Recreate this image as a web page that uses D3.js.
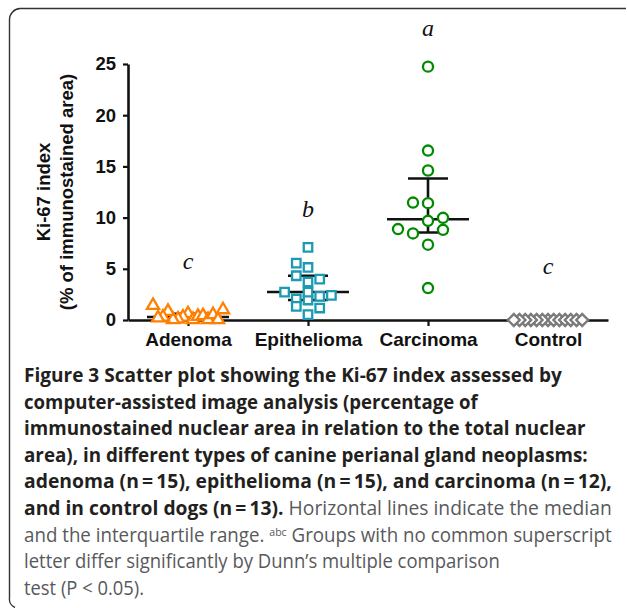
<!DOCTYPE html>
<html>
<head>
<meta charset="utf-8">
<script src="https://cdn.jsdelivr.net/npm/d3@7"></script>
<style>
  body { margin: 0; background: #fff; }
  svg { display: block; }
</style>
</head>
<body>
<div id="chart"></div>
<script>
// Data

let groups = [`Adenoma`, `Epithelioma`, `Carcinoma`, `Control`]

let adenoma = [0.61, 0.29, 0.03, 0.1, 0.35, 0.03, 0.42, 0.84, 0.03, 0.29, 0.52, 0.2, 0.03, 1.42, 1.0]
let epithelioma = [7.09, 5.13, 5.56, 3.71, 4.0, 4.32, 1.95, 0.52, 2.3, 2.05, 1.17, 1.33, 2.4, 2.73, 2.73]
let carcinoma = [24.74, 16.55, 14.6, 11.41, 11.47, 9.69, 9.98, 7.35, 8.45, 8.81, 8.88, 3.12]
let control = [0, 0, 0, 0, 0, 0, 0, 0, 0, 0, 0, 0, 0]

let yTicks = [0, 5, 10, 15, 20, 25]

// Superscript letters (Dunn's test) and the level they sit at, in % units
let letters = [`c`, `b`, `a`, `c`]
let letterLevels = [5.0, 10.1, 27.7, 4.5]

let caption = [
  [[`Figure 3 Scatter plot showing the Ki-67 index assessed by`, `b`]],
  [[`computer-assisted image analysis (percentage of`, `b`]],
  [[`immunostained nuclear area in relation to the total nuclear`, `b`]],
  [[`area), in different types of canine perianal gland neoplasms:`, `b`]],
  [[`adenoma (n\u2009=\u200915), epithelioma (n\u2009=\u200915), and carcinoma (n\u2009=\u200912),`, `b`]],
  [[`and in control dogs (n\u2009=\u200913).`, `b`], [` Horizontal lines indicate the median`, `r`]],
  [[`and the interquartile range. `, `r`], [`abc`, `sup`], [` Groups with no common superscript`, `r`]],
  [[`letter differ significantly by Dunn\u2019s multiple comparison`, `r`]],
  [[`test (P < 0.05).`, `r`]],
]

// Layout

let width = 627
let height = 608
let black = `#111`
let sans = `"Liberation Sans", Arial, sans-serif`

let markers = {
  Adenoma: { values: adenoma, symbol: d3.symbolTriangle, size: 64, color: `#ff7f00`, step: 5, gap: 15 },
  Epithelioma: { values: epithelioma, symbol: d3.symbolSquare, size: 72, color: `#1a9bb3`, step: 11.7, gap: 7 },
  Carcinoma: { values: carcinoma, symbol: d3.symbolCircle, size: 80, color: `#008a00`, step: 15, gap: 11.5 },
  Control: { values: control, symbol: d3.symbolSquare, size: 72, color: `#7a7a7a`, step: 5.7, gap: 10, rotate: 45 },
}

let captionWidths = [538, 454, 562, 564, 588, 588, 588, 476, 120]

let svg = d3.select(`#chart`)
  .append(`svg`)
  .attr(`width`, width)
  .attr(`height`, height)

svg.append(`rect`)
  .attr(`width`, width)
  .attr(`height`, height)
  .attr(`fill`, `#fff`)

// Frame of the figure box (only top and left edges show)
svg.append(`path`)
  .attr(`d`, `M 626 8.5 H 20 A 11 11 0 0 0 9.5 19.5 V 598 A 9 9 0 0 0 15 607.5`)
  .attr(`fill`, `none`)
  .attr(`stroke`, `#333`)
  .attr(`stroke-width`, 1.4)

let x = d3.scalePoint()
  .domain(groups)
  .range([128, 608])
  .padding(0.5)

let y = d3.scaleLinear()
  .domain([0, 25])
  .range([320, 64])

// Axes

let yAxis = svg.append(`g`)
  .attr(`transform`, `translate(128,0)`)
  .call(d3.axisLeft(y).tickValues(yTicks).tickSize(5).tickPadding(7).tickSizeOuter(0))

let xAxis = svg.append(`g`)
  .attr(`transform`, `translate(0,320)`)
  .call(d3.axisBottom(x).tickSize(6).tickPadding(7).tickSizeOuter(0))

;[yAxis, xAxis].forEach(g => {
  g.select(`.domain`).attr(`stroke`, black).attr(`stroke-width`, 2.6)
  g.selectAll(`.tick line`).attr(`stroke`, black).attr(`stroke-width`, 2.2)
  g.selectAll(`.tick text`)
    .attr(`fill`, black)
    .style(`font-family`, sans)
    .style(`font-weight`, `bold`)
})
yAxis.selectAll(`.tick text`).style(`font-size`, `18.5px`)
xAxis.selectAll(`.tick text`).style(`font-size`, `19px`)

let yTitle = svg.append(`text`)
  .attr(`transform`, `translate(0,${(y(0) + y(25)) / 2}) rotate(-90)`)
  .attr(`text-anchor`, `middle`)
  .style(`font-family`, sans)
  .style(`font-weight`, `bold`)
  .style(`font-size`, `18.5px`)
  .attr(`fill`, black)

yTitle.append(`tspan`).attr(`x`, 0).attr(`y`, 50).text(`Ki-67 index`)
yTitle.append(`tspan`).attr(`x`, 0).attr(`y`, 73).text(`(% of immunostained area)`)

// Beeswarm layout: points that overlap in the same column are pushed sideways,
// alternating left and right

let dodge = (values, step, gap) => {
  let placed = []
  let side = -1
  return values.map(v => {
    let py = y(v)
    let free = col => placed.every(p => p.col !== col || Math.abs(p.y - py) >= gap)
    let col = 0
    if (!free(0)) {
      for (let k = 1; ; k++) {
        if (free(side * k)) { col = side * k; break }
        if (free(-side * k)) { col = -side * k; break }
      }
      side = -side
    }
    placed.push({ col, y: py })
    return col * step
  })
}

// Quartiles the way Prism computes them
let quantile = (sorted, p) => {
  let n = sorted.length
  let h = (n + 1) * p
  if (h <= 1) return sorted[0]
  if (h >= n) return sorted[n - 1]
  let lo = Math.floor(h)
  return sorted[lo - 1] + (h - lo) * (sorted[lo] - sorted[lo - 1])
}

// Median and interquartile range

let stats = svg.append(`g`)
  .attr(`stroke`, black)
  .attr(`stroke-width`, 2.6)

groups.forEach(g => {
  let sorted = markers[g].values.slice().sort(d3.ascending)
  let cx = x(g)
  let q1 = quantile(sorted, 0.25)
  let med = quantile(sorted, 0.5)
  let q3 = quantile(sorted, 0.75)

  stats.append(`line`).attr(`x1`, cx - 41).attr(`x2`, cx + 41).attr(`y1`, y(med)).attr(`y2`, y(med))
  stats.append(`line`).attr(`x1`, cx - 20).attr(`x2`, cx + 20).attr(`y1`, y(q1)).attr(`y2`, y(q1))
  stats.append(`line`).attr(`x1`, cx - 20).attr(`x2`, cx + 20).attr(`y1`, y(q3)).attr(`y2`, y(q3))
  stats.append(`line`).attr(`x1`, cx).attr(`x2`, cx).attr(`y1`, y(q1)).attr(`y2`, y(q3))
})

// Points

groups.forEach(g => {
  let m = markers[g]
  let offsets = dodge(m.values, m.step, m.gap)
  let sym = d3.symbol().type(m.symbol).size(m.size)

  svg.append(`g`)
    .selectAll(`path`)
    .data(m.values)
    .join(`path`)
    .attr(`d`, sym)
    .attr(`transform`, (d, i) => `translate(${x(g) + offsets[i]},${y(d)}) rotate(${m.rotate || 0})`)
    .attr(`fill`, `#fff`)
    .attr(`stroke`, m.color)
    .attr(`stroke-width`, 2.3)
})

// Letters

svg.append(`g`)
  .selectAll(`text`)
  .data(groups)
  .join(`text`)
  .attr(`x`, d => x(d))
  .attr(`y`, (d, i) => y(letterLevels[i]))
  .attr(`text-anchor`, `middle`)
  .style(`font-family`, `"Liberation Serif", "Times New Roman", serif`)
  .style(`font-style`, `italic`)
  .style(`font-size`, `24px`)
  .attr(`fill`, black)
  .text((d, i) => letters[i])

// Caption: each line is squeezed to the width it has in the journal layout

let cap = svg.append(`g`)
  .style(`font-family`, `"Open Sans", "Noto Sans", sans-serif`)
  .style(`font-size`, `19.5px`)

caption.forEach((line, i) => {
  let t = cap.append(`text`)

  line.forEach(([str, kind], j) => {
    let s = t.append(`tspan`).text(str)
    if (kind === `b`) s.attr(`font-weight`, 700).attr(`fill`, `#231f20`)
    else s.attr(`font-weight`, 400).attr(`fill`, `#58595b`)
    if (kind === `sup`) s.attr(`font-size`, `11px`).attr(`dy`, -6)
    if (j > 0 && line[j - 1][1] === `sup`) s.attr(`dy`, 6)
  })

  let k = captionWidths[i] / t.node().getComputedTextLength()
  t.attr(`transform`, `translate(24,${382 + i * 26.6}) scale(${k},1)`)
})
</script>
</body>
</html>
